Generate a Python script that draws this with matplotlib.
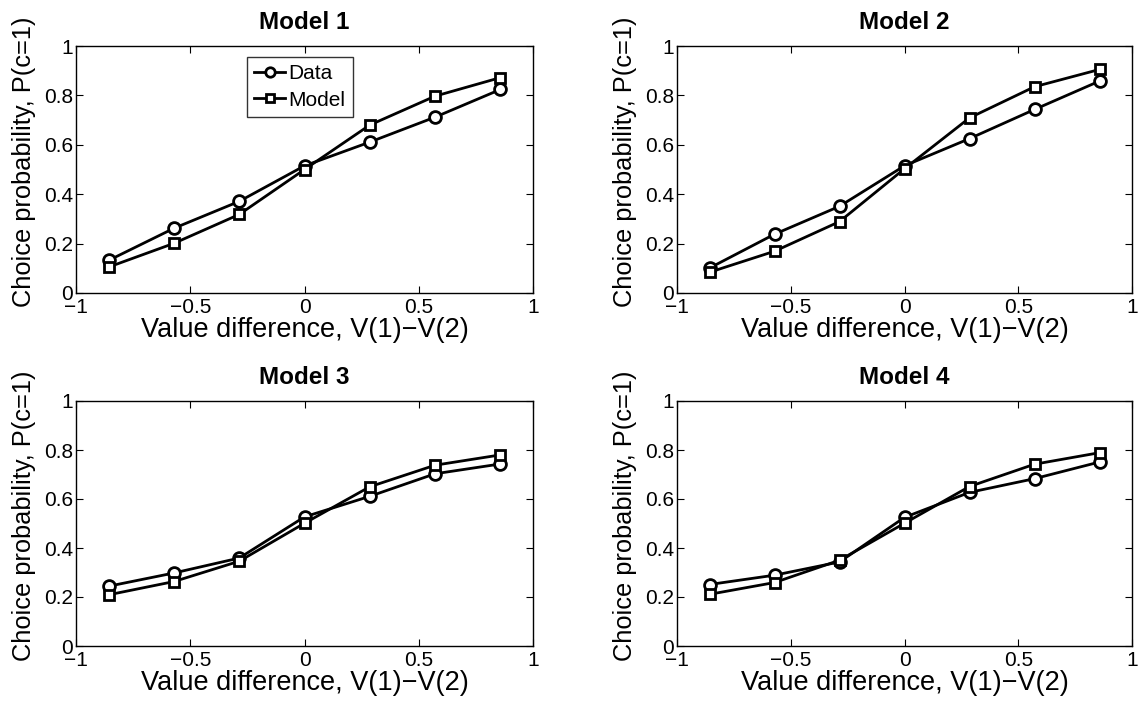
import matplotlib.pyplot as plt

plt.rcParams['font.family'] = ['Liberation Sans', 'DejaVu Sans']

# x positions of the value-difference bins
x = [-6/7, -4/7, -2/7, 0, 2/7, 4/7, 6/7]

titles = ['Model 1', 'Model 2', 'Model 3', 'Model 4']

data1 = [0.132, 0.262, 0.371, 0.515, 0.611, 0.712, 0.824]
model1 = [0.105, 0.201, 0.318, 0.500, 0.680, 0.797, 0.872]
data2 = [0.101, 0.238, 0.351, 0.515, 0.625, 0.743, 0.858]
model2 = [0.084, 0.169, 0.289, 0.503, 0.709, 0.835, 0.905]
data3 = [0.244, 0.298, 0.359, 0.527, 0.611, 0.703, 0.743]
model3 = [0.209, 0.263, 0.346, 0.501, 0.650, 0.738, 0.780]
data4 = [0.251, 0.289, 0.343, 0.525, 0.627, 0.683, 0.751]
model4 = [0.211, 0.259, 0.350, 0.501, 0.651, 0.742, 0.789]

all_data = [data1, data2, data3, data4]
all_model = [model1, model2, model3, model4]

fig = plt.figure(figsize=(11.48, 7.09), dpi=100)

# axes rectangles in figure fraction (left, bottom, width, height)
rects = [
    (76/1148, 1 - 293/709, 457/1148, 247/709),
    (677/1148, 1 - 293/709, 455/1148, 247/709),
    (76/1148, 1 - 646/709, 457/1148, 245/709),
    (677/1148, 1 - 646/709, 455/1148, 245/709),
]

for i in range(4):
    ax = fig.add_axes(rects[i])
    ax.plot(x, all_data[i], color='k', lw=2.0, marker='o', ms=8.5,
            mfc='white', mec='k', mew=2.0, label='Data')
    ax.plot(x, all_model[i], color='k', lw=2.0, marker='s', ms=6.5,
            mfc='white', mec='k', mew=2.0, label='Model')
    ax.set_xlim(-1, 1)
    ax.set_ylim(0, 1)
    ax.set_xticks([-1, -0.5, 0, 0.5, 1])
    ax.set_xticklabels(['\u22121', '\u22120.5', '0', '0.5', '1'])
    ax.set_yticks([0, 0.2, 0.4, 0.6, 0.8, 1])
    ax.set_yticklabels(['0', '0.2', '0.4', '0.6', '0.8', '1'])
    ax.tick_params(direction='in', top=True, right=True, length=5,
                   labelsize=15, pad=2)
    ax.tick_params(axis='x', pad=3.5)
    for s in ax.spines.values():
        s.set_linewidth(1.0)
    ax.set_xlabel('Value difference, V(1)\u2212V(2)', fontsize=19.5, labelpad=0)
    ax.set_ylabel('Choice probability, P(c=1)', fontsize=18.3)
    ax.yaxis.set_label_coords(-0.088, 0.53)
    ax.set_title(titles[i], fontsize=17.5, fontweight='bold', pad=12)
    if i == 0:
        leg = ax.legend(loc='upper left', bbox_to_anchor=(0.374, 0.955),
                        fontsize=15, frameon=True, fancybox=False,
                        handlelength=1.5, handletextpad=0.15, borderpad=0.35,
                        labelspacing=0.35, borderaxespad=0, markerscale=0.8)
        leg.get_frame().set_edgecolor('k')
        leg.get_frame().set_linewidth(1.0)

fig.savefig('out.png', dpi=100)
